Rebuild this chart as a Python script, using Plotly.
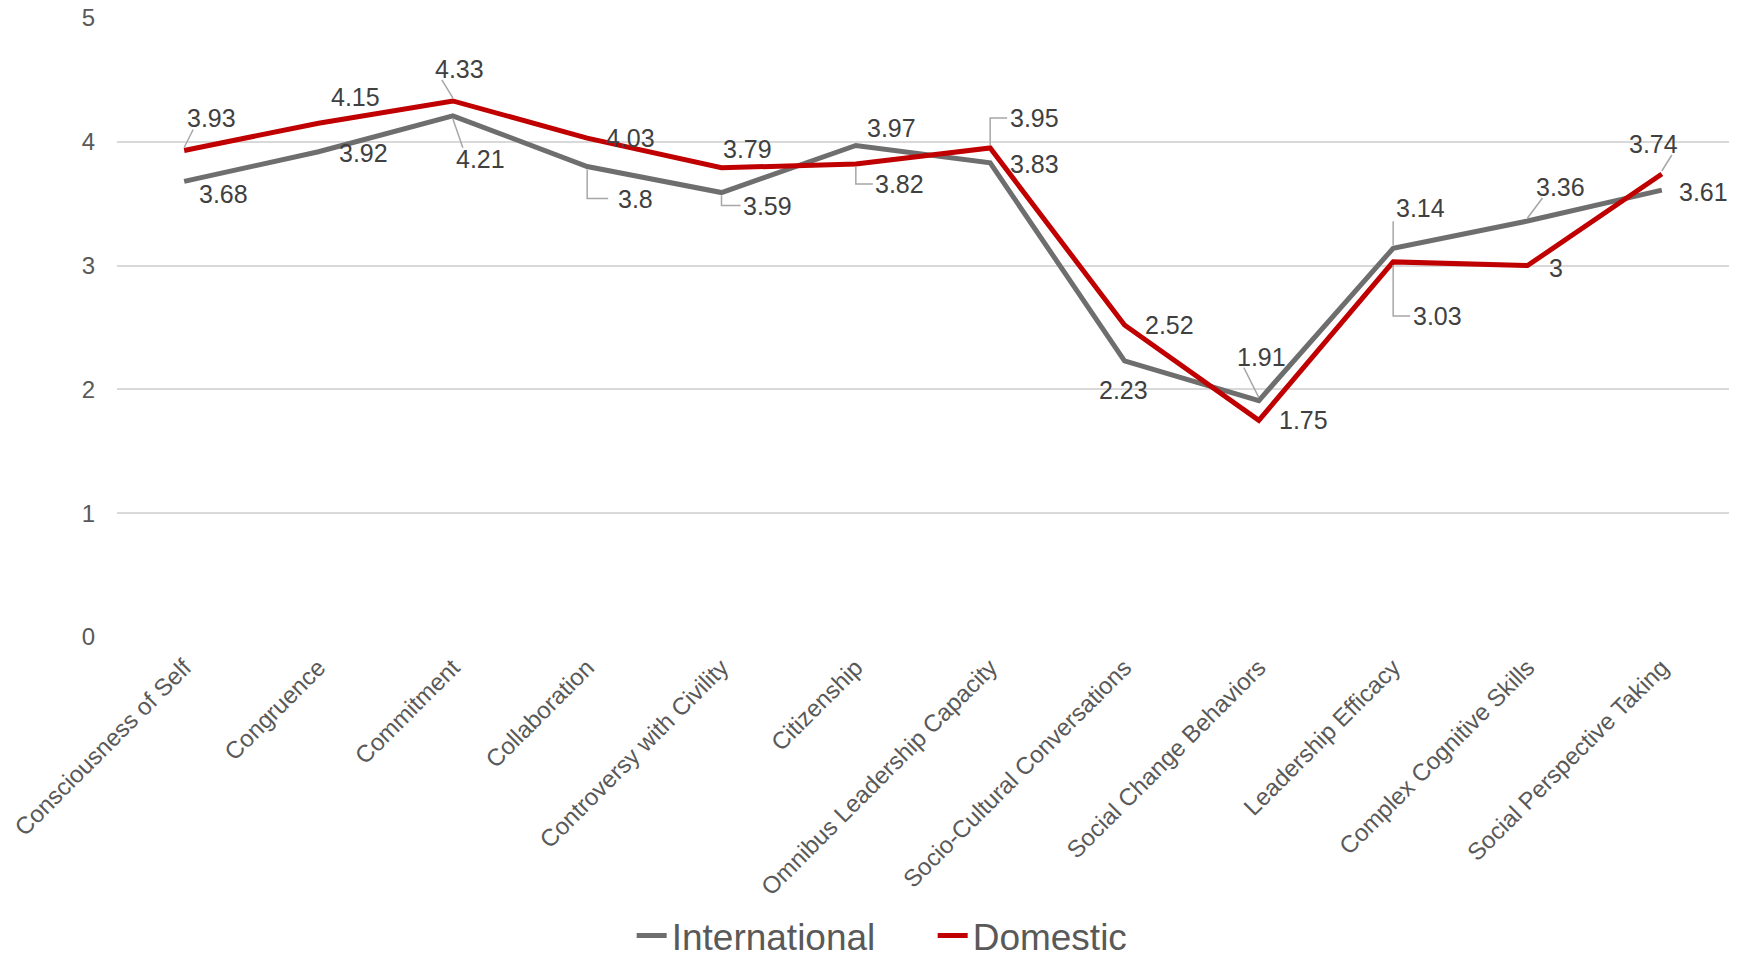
import plotly.graph_objects as go

categories = [
    "Consciousness of Self", "Congruence", "Commitment", "Collaboration",
    "Controversy with Civility", "Citizenship", "Omnibus Leadership Capacity",
    "Socio-Cultural Conversations", "Social Change Behaviors", "Leadership Efficacy",
    "Complex Cognitive Skills", "Social Perspective Taking",
]
international = [3.68, 3.92, 4.21, 3.8, 3.59, 3.97, 3.83, 2.23, 1.91, 3.14, 3.36, 3.61]
domestic = [3.93, 4.15, 4.33, 4.03, 3.79, 3.82, 3.95, 2.52, 1.75, 3.03, 3.0, 3.74]
y_ticks = [0, 1, 2, 3, 4, 5]

GRAY = "#6e6e6e"
RED = "#c00000"
TEXT = "#404040"
LEADER = "#a6a6a6"
FONT = "Liberation Sans, Arial, sans-serif"

# label offsets in pixels (dx right, dy up) and leader style per point
intl_offsets = [
    (39, -13, None), (45, -1, None), (28, -43, "diag"), (48, -32, "elbow"),
    (46, -13, "elbow"), (36, 18, None), (44, -1, None), (-1, -29, None),
    (3, 44, "diag"), (27, 40, "vert"), (33, 34, "diag"), (42, -2, None),
]
dom_offsets = [
    (27, 32, "diag"), (37, 26, None), (7, 32, "diag"), (43, 0, None),
    (26, 19, None), (44, -20, "elbow"), (44, 30, "elbow"), (45, 0, None),
    (45, 0, None), (44, -54, "elbow"), (28, -2, None), (-8, 30, "diag"),
]

xs = list(range(len(categories)))

fig = go.Figure()
fig.add_trace(go.Scatter(x=xs, y=international, name="International", mode="lines",
                         line=dict(color=GRAY, width=5)))
fig.add_trace(go.Scatter(x=xs, y=domestic, name="Domestic", mode="lines",
                         line=dict(color=RED, width=5)))

annotations = []
shapes = []


def add_labels(values, offsets):
    for i, (v, (dx, dy, style)) in enumerate(zip(values, offsets)):
        annotations.append(dict(
            x=i, y=v, xref="x", yref="y", text=f"{v:g}", showarrow=False,
            xshift=dx, yshift=dy, font=dict(family=FONT, size=25, color=TEXT),
        ))
        if style is None:
            continue
        # leader line from the point toward the label
        sx = 1 if dx >= 0 else -1
        sy = 1 if dy >= 0 else -1
        if style == "diag":
            path = f"M 0 {sy*3} L {dx - sx*18} {dy - sy*11}"
        elif style == "vert":
            path = f"M 0 {sy*3} L 0 {dy - sy*13}"
        else:
            path = f"M 0 {sy*3} L 0 {dy} L {dx - 27} {dy}"
        shapes.append(dict(
            type="path", xref="x", yref="y", xsizemode="pixel", ysizemode="pixel",
            xanchor=i, yanchor=v, path=path,
            line=dict(color=LEADER, width=1.5), layer="above",
        ))


add_labels(international, intl_offsets)
add_labels(domestic, dom_offsets)

fig.update_layout(
    width=1747, height=960,
    margin=dict(l=117, r=18, t=18, b=323, autoexpand=False),
    paper_bgcolor="white", plot_bgcolor="white",
    font=dict(family=FONT, color="#595959"),
    annotations=annotations, shapes=shapes,
    showlegend=True,
    legend=dict(orientation="h", x=0.506, xanchor="center", y=-0.483, yanchor="middle",
                font=dict(family=FONT, size=37, color="#595959"),
                entrywidth=256, tracegroupgap=0),
    xaxis=dict(
        range=[-0.5, len(categories) - 0.5], tickmode="array", tickvals=xs,
        ticktext=categories, tickangle=-45, showgrid=False, zeroline=False,
        showline=False, ticks="outside", ticklen=6, tickcolor="rgba(0,0,0,0)",
        automargin=False,
        tickfont=dict(family=FONT, size=24, color="#595959"),
    ),
    yaxis=dict(
        range=[0, 5], tickmode="array", tickvals=y_ticks, showgrid=True,
        gridcolor="#d9d9d9", gridwidth=1.5, zeroline=False, showline=False,
        ticks="outside", ticklen=16, tickcolor="rgba(0,0,0,0)", automargin=False,
        tickfont=dict(family=FONT, size=24, color="#595959"),
    ),
)

fig.write_html("out.html")
